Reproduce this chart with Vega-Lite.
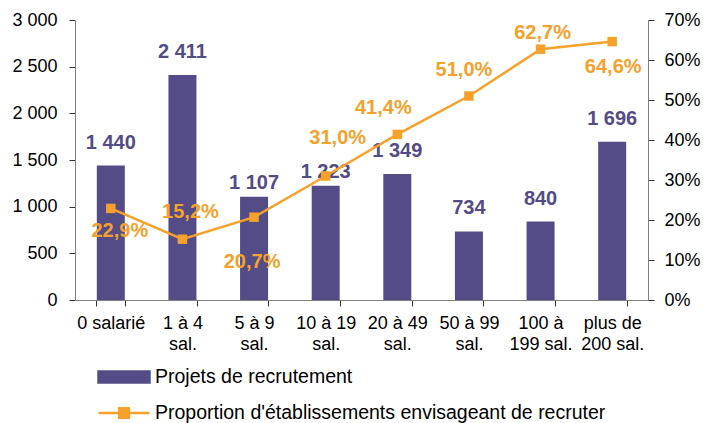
{
  "$schema": "https://vega.github.io/schema/vega-lite/v6.json",
  "width": 573,
  "height": 280,
  "autosize": {"type": "none"},
  "padding": {"left": 75, "top": 20, "right": 55, "bottom": 123},
  "config": {
    "font": "Liberation Sans",
    "view": {"stroke": null},
    "locale": {"number": {"decimal": ",", "thousands": " ", "grouping": [3], "currency": ["", " €"]}},
    "axis": {"grid": false, "domainColor": "#808080", "tickColor": "#333333", "labelColor": "#000000", "labelFontSize": 18, "labelFont": "Liberation Sans", "tickSize": 6, "title": null}
  },
  "data": {"values": [
    {"taille": "0 salarié", "recrutement": 1440, "proportion": 0.229},
    {"taille": "1 à 4 sal.", "recrutement": 2411, "proportion": 0.152},
    {"taille": "5 à 9 sal.", "recrutement": 1107, "proportion": 0.207},
    {"taille": "10 à 19 sal.", "recrutement": 1223, "proportion": 0.310},
    {"taille": "20 à 49 sal.", "recrutement": 1349, "proportion": 0.414},
    {"taille": "50 à 99 sal.", "recrutement": 734, "proportion": 0.510},
    {"taille": "100 à 199 sal.", "recrutement": 840, "proportion": 0.627},
    {"taille": "plus de 200 sal.", "recrutement": 1696, "proportion": 0.646}
  ]},
  "encoding": {
    "x": {
      "field": "taille", "type": "nominal", "sort": null,
      "scale": {"paddingInner": 0.6, "paddingOuter": 0.3},
      "axis": {
        "labelAngle": 0, "tickBand": "extent", "labelPadding": 8, "labelLineHeight": 21,
        "labelExpr": "indexof(datum.label, ' sal.') < 0 ? datum.label : indexof(datum.label, '100 ') == 0 ? ['100 à', '199 sal.'] : indexof(datum.label, 'plus') == 0 ? ['plus de', '200 sal.'] : [replace(datum.label, ' sal.', ''), 'sal.']"
      }
    }
  },
  "layer": [
    {
      "encoding": {
        "y": {"field": "recrutement", "type": "quantitative",
          "scale": {"domain": [0, 3000], "nice": false},
          "axis": {"orient": "left", "values": [0, 500, 1000, 1500, 2000, 2500, 3000], "format": ",.0f", "labelPadding": 12}}
      },
      "layer": [
        {"mark": {"type": "bar", "size": 28},
         "encoding": {"color": {"datum": "Projets de recrutement", "type": "nominal",
           "scale": {"domain": ["Projets de recrutement", "Proportion d'établissements envisageant de recruter"], "range": ["#534C87", "#F6A12B"]},
           "legend": {
             "title": null, "orient": "none", "legendX": 22, "legendY": 347, "direction": "vertical",
             "symbolSize": 2601, "clipHeight": 20, "rowPadding": 16, "labelOffset": 4,
             "labelFontSize": 19.5, "labelFont": "Liberation Sans", "labelColor": "#000000", "labelLimit": 600,
             "encode": {"symbols": {"update": {
               "shape": {"signal": "indexof(datum.value, 'Projets') == 0 ? 'M-1,-0.22H1V0.22H-1Z' : 'M-1,0H1M-0.19,-0.19H0.19V0.19H-0.19Z'"},
               "fill": {"signal": "indexof(datum.value, 'Projets') == 0 ? '#534C87' : '#F6A12B'"},
               "stroke": {"signal": "indexof(datum.value, 'Projets') == 0 ? 'transparent' : '#F6A12B'"},
               "strokeWidth": {"value": 2.5},
               "opacity": {"value": 1}
             }}}
           }}}},
        {"mark": {"type": "text", "dy": -23, "fontSize": 20, "fontWeight": "bold", "color": "#534C87"},
         "transform": [{"filter": "datum.recrutement != 1107 && datum.recrutement != 1223"}],
         "encoding": {"text": {"field": "recrutement", "type": "quantitative", "format": ",.0f"}}},
        {"mark": {"type": "text", "dy": -14, "fontSize": 20, "fontWeight": "bold", "color": "#534C87"},
         "transform": [{"filter": "datum.recrutement == 1107 || datum.recrutement == 1223"}],
         "encoding": {"text": {"field": "recrutement", "type": "quantitative", "format": ",.0f"}}}
      ]
    },
    {
      "encoding": {
        "y": {"field": "proportion", "type": "quantitative",
          "scale": {"domain": [0, 0.7], "nice": false},
          "axis": {"orient": "right", "values": [0, 0.1, 0.2, 0.3, 0.4, 0.5, 0.6, 0.7], "format": ".0%", "labelPadding": 10}}
      },
      "layer": [
        {"mark": {"type": "line", "strokeWidth": 2.5},
         "encoding": {"color": {"datum": "Proportion d'établissements envisageant de recruter", "type": "nominal"}}},
        {"mark": {"type": "point", "shape": "square", "filled": true, "size": 90, "opacity": 1, "color": "#F6A12B"}, "encoding": {}},
        {"mark": {"type": "text", "dx": 9, "dy": 23, "fontSize": 20, "fontWeight": "bold", "color": "#F6A12B"},
         "transform": [{"filter": "datum.recrutement == 1440"}],
         "encoding": {"text": {"field": "proportion", "type": "quantitative", "format": ".1%"}}},
        {"mark": {"type": "text", "dx": 8, "dy": -27, "fontSize": 20, "fontWeight": "bold", "color": "#F6A12B"},
         "transform": [{"filter": "datum.recrutement == 2411"}],
         "encoding": {"text": {"field": "proportion", "type": "quantitative", "format": ".1%"}}},
        {"mark": {"type": "text", "dx": -2, "dy": 45, "fontSize": 20, "fontWeight": "bold", "color": "#F6A12B"},
         "transform": [{"filter": "datum.recrutement == 1107"}],
         "encoding": {"text": {"field": "proportion", "type": "quantitative", "format": ".1%"}}},
        {"mark": {"type": "text", "dx": 12, "dy": -38, "fontSize": 20, "fontWeight": "bold", "color": "#F6A12B"},
         "transform": [{"filter": "datum.recrutement == 1223"}],
         "encoding": {"text": {"field": "proportion", "type": "quantitative", "format": ".1%"}}},
        {"mark": {"type": "text", "dx": -14, "dy": -26, "fontSize": 20, "fontWeight": "bold", "color": "#F6A12B"},
         "transform": [{"filter": "datum.recrutement == 1349"}],
         "encoding": {"text": {"field": "proportion", "type": "quantitative", "format": ".1%"}}},
        {"mark": {"type": "text", "dx": -5, "dy": -26, "fontSize": 20, "fontWeight": "bold", "color": "#F6A12B"},
         "transform": [{"filter": "datum.recrutement == 734"}],
         "encoding": {"text": {"field": "proportion", "type": "quantitative", "format": ".1%"}}},
        {"mark": {"type": "text", "dx": 2, "dy": -16, "fontSize": 20, "fontWeight": "bold", "color": "#F6A12B"},
         "transform": [{"filter": "datum.recrutement == 840"}],
         "encoding": {"text": {"field": "proportion", "type": "quantitative", "format": ".1%"}}},
        {"mark": {"type": "text", "dx": 1, "dy": 25, "fontSize": 20, "fontWeight": "bold", "color": "#F6A12B"},
         "transform": [{"filter": "datum.recrutement == 1696"}],
         "encoding": {"text": {"field": "proportion", "type": "quantitative", "format": ".1%"}}}
      ]
    }
  ],
  "resolve": {"scale": {"y": "independent"}}
}
